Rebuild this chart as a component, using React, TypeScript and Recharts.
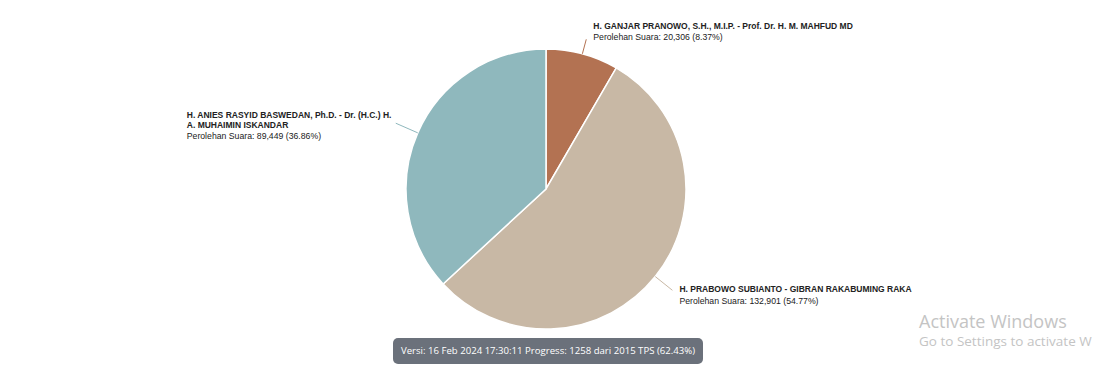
import { PieChart, Pie, Cell } from "recharts";

const candidates = [
    ["H. GANJAR PRANOWO, S.H., M.I.P. - Prof. Dr. H. M. MAHFUD MD"],
    ["H. PRABOWO SUBIANTO - GIBRAN RAKABUMING RAKA"],
    ["H. ANIES RASYID BASWEDAN, Ph.D. - Dr. (H.C.) H.", "A. MUHAIMIN ISKANDAR"],
];
const votes = [20306, 132901, 89449];
const voteLabels = ["20,306", "132,901", "89,449"];
const percentLabels = ["8.37%", "54.77%", "36.86%"];
const colors = ["#b37252", "#c8b8a5", "#8fb8bd"];

// connector length and vertical shift of each label block
const connectorLen = [15, 22, 24];
const blockShift = [-13.5, -1, -8];
const LEFT_BLOCK_W = 203;

const data = votes.map((v, i) => ({
    name: candidates[i].join(" "),
    votes: v,
    index: i,
}));

const RADIAN = Math.PI / 180;

const renderLabel = (props: any) => {
    const { cx, cy, midAngle, outerRadius, index } = props;
    const cos = Math.cos(-midAngle * RADIAN);
    const sin = Math.sin(-midAngle * RADIAN);
    const sx = cx + outerRadius * cos;
    const sy = cy + outerRadius * sin;
    const ex = cx + (outerRadius + connectorLen[index]) * cos;
    const ey = cy + (outerRadius + connectorLen[index]) * sin;
    const right = cos >= 0;
    const tx = right ? ex + 7 : ex - 6 - LEFT_BLOCK_W;
    const lines = candidates[index];
    const top = ey + blockShift[index];
    return (
        <g>
            <path d={`M${sx},${sy}L${ex},${ey}`} stroke={colors[index]} strokeWidth={1} fill="none" />
            {lines.map((ln, k) => (
                <text
                    key={k}
                    x={tx}
                    y={top + k * 9.5}
                    fontSize={8.5}
                    fontWeight="bold"
                    fill="#222"
                    fontFamily="'Liberation Sans', Arial, sans-serif"
                    dominantBaseline="central"
                >
                    {ln}
                </text>
            ))}
            <text
                x={tx}
                y={top + (lines.length - 1) * 9.5 + 11.5}
                fontSize={8.7}
                fill="#222"
                fontFamily="'Liberation Sans', Arial, sans-serif"
                dominantBaseline="central"
            >
                {`Perolehan Suara: ${voteLabels[index]} (${percentLabels[index]})`}
            </text>
        </g>
    );
};

export default function App() {
    return (
        <div
            style={{
                position: "absolute",
                left: 0,
                top: 0,
                width: 1094,
                height: 374,
                overflow: "hidden",
                background: "#fff",
            }}
        >
            <PieChart width={1094} height={374} margin={{ top: 0, right: 0, bottom: 0, left: 0 }}>
                <Pie
                    data={data}
                    dataKey="votes"
                    cx={546}
                    cy={189}
                    outerRadius={140}
                    startAngle={90}
                    endAngle={-270}
                    stroke="#ffffff"
                    strokeWidth={1.5}
                    label={renderLabel}
                    labelLine={false}
                    isAnimationActive={false}
                >
                    {data.map((d) => (
                        <Cell key={d.index} fill={colors[d.index]} />
                    ))}
                </Pie>
            </PieChart>
            <div
                style={{
                    position: "absolute",
                    left: 393,
                    top: 338,
                    width: 310,
                    height: 26,
                    borderRadius: 5,
                    background: "#6b717b",
                    color: "#fff",
                    fontFamily: "'Open Sans', 'Noto Sans', sans-serif",
                    fontSize: 9.6,
                    lineHeight: "26px",
                    textAlign: "center",
                    whiteSpace: "nowrap",
                }}
            >
                Versi: 16 Feb 2024 17:30:11 Progress: 1258 dari 2015 TPS (62.43%)
            </div>
            <div
                style={{
                    position: "absolute",
                    left: 919,
                    top: 310,
                    color: "#c4c4c4",
                    fontFamily: "'Open Sans', 'Noto Sans', sans-serif",
                    whiteSpace: "nowrap",
                }}
            >
                <div style={{ fontSize: 18, lineHeight: "22px" }}>Activate Windows</div>
                <div style={{ fontSize: 13.5, lineHeight: "18px" }}>Go to Settings to activate W</div>
            </div>
        </div>
    );
}
